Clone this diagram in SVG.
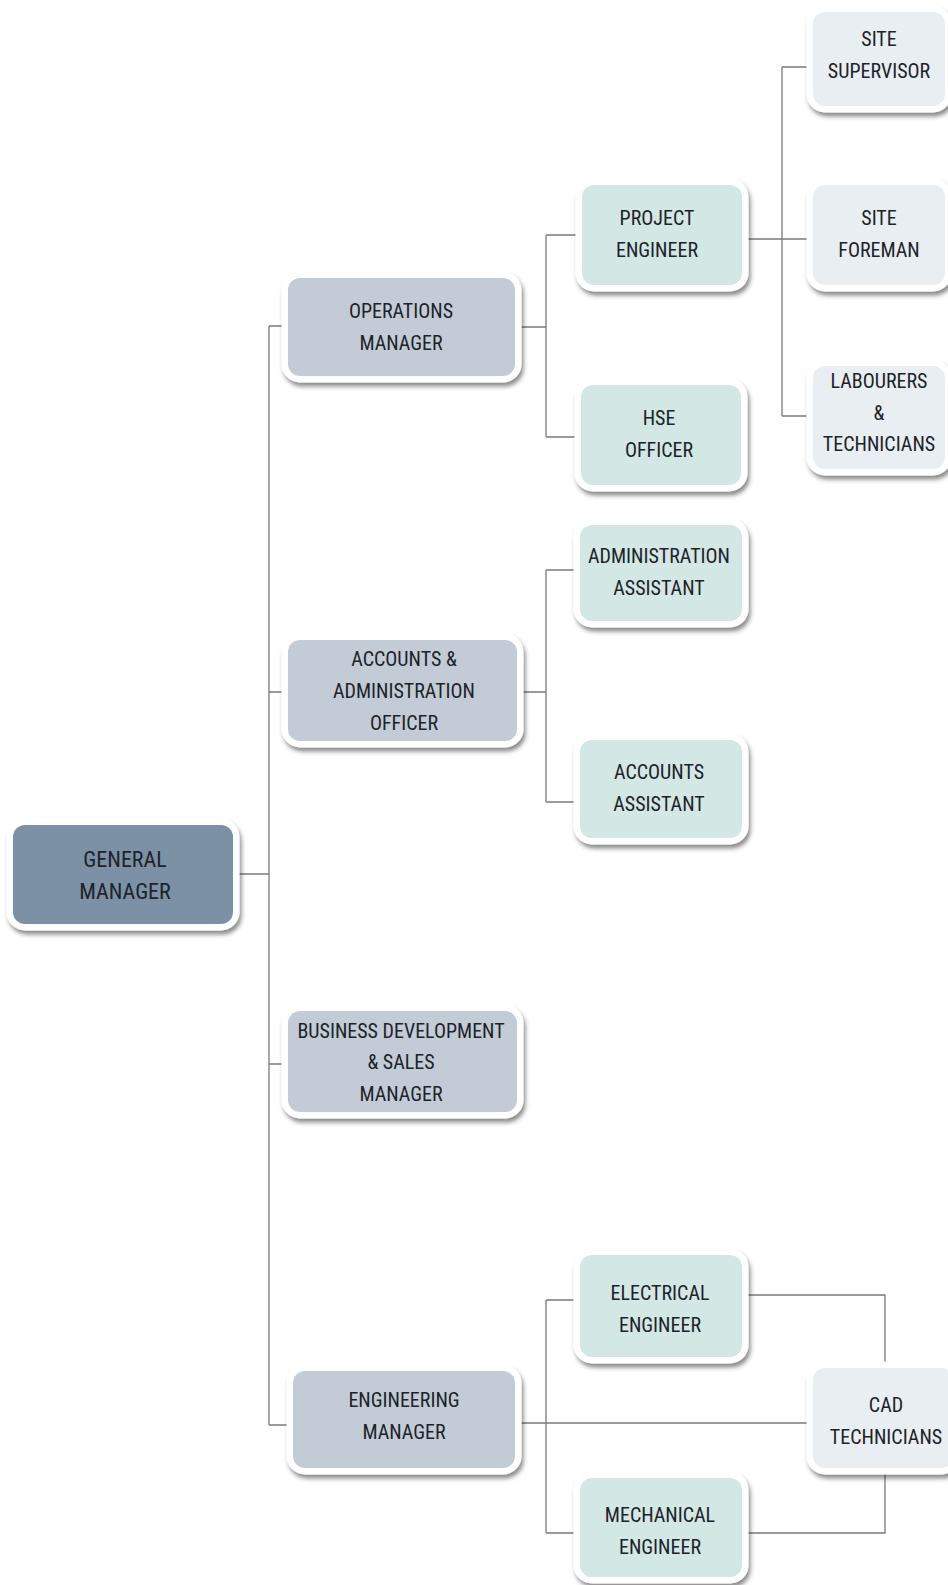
<svg xmlns="http://www.w3.org/2000/svg" width="948" height="1585" viewBox="0 0 948 1585">
<defs>
<filter id="sh" x="-10%" y="-10%" width="125%" height="135%">
<feDropShadow dx="2" dy="4" stdDeviation="2" flood-color="#333" flood-opacity="0.55"/>
</filter>
<style>
.box{stroke:#fff;stroke-width:13;paint-order:stroke;filter:url(#sh)}
.gm{fill:#7c90a6}
.l1{fill:#c3ccd6}
.l2{fill:#d3e7e5}
.l3{fill:#e9eef2}
text{font-family:"Liberation Sans Narrow","Roboto Condensed","DejaVu Sans Condensed",sans-serif;font-size:20px;fill:#1c2329;text-anchor:middle}
.big{font-size:22px}
.con{fill:none;stroke:#7a7a7a;stroke-width:1.3}
</style>
</defs>
<rect width="948" height="1585" fill="#fff"/>
<g id="connectors" class="con">
<path d="M233 874H269M269 326V1425M269 326H288M269 692H288M269 1064H288M269 1425H293"/>
<path d="M515 327H546M546 235V437M546 235H582M546 437H582"/>
<path d="M742 239H813M782 67V416M782 67H813M782 416H813"/>
<path d="M517 692H546M546 570V802M546 570H580M546 802H580"/>
<path d="M515 1423H813M546 1300V1533M546 1300H580M546 1533H580"/>
<path d="M742 1295H885V1368M742 1533H885V1468"/>
</g>
<g id="gm"><rect class="box gm" x="13" y="825" width="220" height="99" rx="12"/><text class="big" x="125" y="867">GENERAL</text><text class="big" x="125" y="899">MANAGER</text></g>
<g id="ops"><rect class="box l1" x="288" y="278" width="227" height="98" rx="12"/><text x="401" y="318">OPERATIONS</text><text x="401" y="350">MANAGER</text></g>
<g id="acc"><rect class="box l1" x="288" y="640" width="229" height="101" rx="12"/><text x="404" y="666">ACCOUNTS &amp;</text><text x="404" y="698">ADMINISTRATION</text><text x="404" y="730">OFFICER</text></g>
<g id="bd"><rect class="box l1" x="288" y="1011" width="229" height="101" rx="12"/><text x="401" y="1038">BUSINESS DEVELOPMENT</text><text x="401" y="1069">&amp; SALES</text><text x="401" y="1101">MANAGER</text></g>
<g id="eng"><rect class="box l1" x="293" y="1371" width="222" height="97" rx="12"/><text x="404" y="1407">ENGINEERING</text><text x="404" y="1439">MANAGER</text></g>
<g id="pe"><rect class="box l2" x="582" y="185" width="160" height="100" rx="12"/><text x="657" y="225">PROJECT</text><text x="657" y="257">ENGINEER</text></g>
<g id="hse"><rect class="box l2" x="581" y="385" width="160" height="100" rx="12"/><text x="659" y="425">HSE</text><text x="659" y="457">OFFICER</text></g>
<g id="aa"><rect class="box l2" x="580" y="525" width="162" height="96" rx="12"/><text x="659" y="563">ADMINISTRATION</text><text x="659" y="595">ASSISTANT</text></g>
<g id="acca"><rect class="box l2" x="580" y="740" width="162" height="98" rx="12"/><text x="659" y="779">ACCOUNTS</text><text x="659" y="811">ASSISTANT</text></g>
<g id="ee"><rect class="box l2" x="580" y="1255" width="162" height="102" rx="12"/><text x="660" y="1300">ELECTRICAL</text><text x="660" y="1332">ENGINEER</text></g>
<g id="me"><rect class="box l2" x="580" y="1478" width="162" height="99" rx="12"/><text x="660" y="1522">MECHANICAL</text><text x="660" y="1554">ENGINEER</text></g>
<g id="ss"><rect class="box l3" x="813" y="12" width="132" height="94" rx="12"/><text x="879" y="46">SITE</text><text x="879" y="78">SUPERVISOR</text></g>
<g id="sf"><rect class="box l3" x="813" y="185" width="132" height="100" rx="12"/><text x="879" y="225">SITE</text><text x="879" y="257">FOREMAN</text></g>
<g id="lt"><rect class="box l3" x="813" y="366" width="132" height="103" rx="12"/><text x="879" y="388">LABOURERS</text><text x="879" y="420">&amp;</text><text x="879" y="451">TECHNICIANS</text></g>
<g id="cad"><rect class="box l3" x="813" y="1368" width="140" height="100" rx="12"/><text x="886" y="1412">CAD</text><text x="886" y="1444">TECHNICIANS</text></g>
</svg>
